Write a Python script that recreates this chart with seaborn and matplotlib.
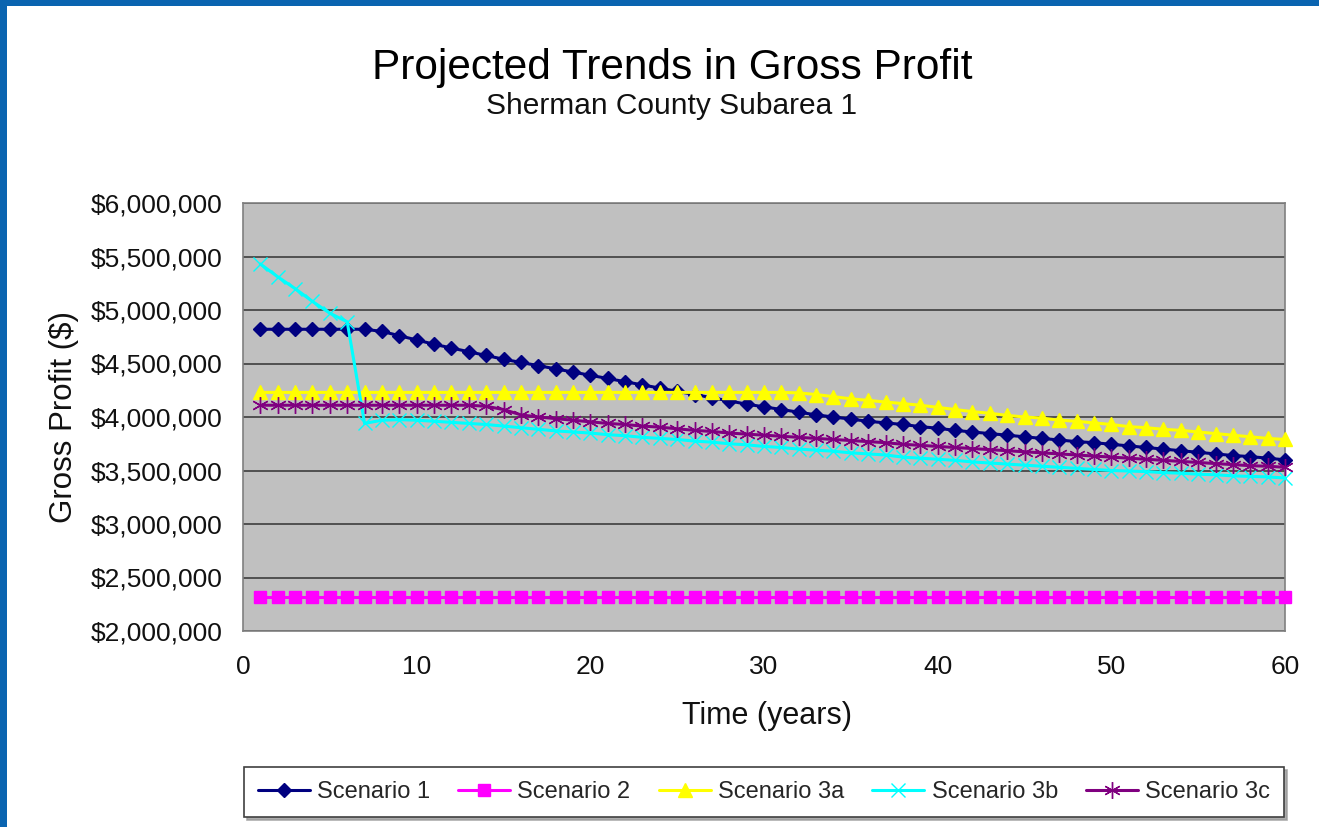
import matplotlib
matplotlib.use("Agg")
import matplotlib.pyplot as plt
from matplotlib.patches import Rectangle
from matplotlib.ticker import FuncFormatter
import seaborn as sns
import pandas as pd

# ---------------- data (values in $ millions) ----------------
years = list(range(1, 61))
series_names = ["Scenario 1", "Scenario 2", "Scenario 3a", "Scenario 3b", "Scenario 3c"]

scenario_1 = [4.82, 4.82, 4.82, 4.82, 4.82, 4.82, 4.82, 4.80, 4.76, 4.72,
              4.68, 4.645, 4.61, 4.575, 4.54, 4.51, 4.48, 4.45, 4.42, 4.39,
              4.36, 4.33, 4.30, 4.27, 4.24, 4.21, 4.18, 4.15, 4.12, 4.095,
              4.07, 4.045, 4.02, 4.00, 3.98, 3.96, 3.945, 3.93, 3.91, 3.895,
              3.875, 3.86, 3.845, 3.83, 3.815, 3.80, 3.785, 3.77, 3.76, 3.745,
              3.73, 3.715, 3.70, 3.685, 3.67, 3.655, 3.64, 3.63, 3.615, 3.60]

scenario_2 = [2.32, 2.32, 2.32, 2.32, 2.32, 2.32, 2.32, 2.32, 2.32, 2.32,
              2.32, 2.32, 2.32, 2.32, 2.32, 2.32, 2.32, 2.32, 2.32, 2.32,
              2.32, 2.32, 2.32, 2.32, 2.32, 2.32, 2.32, 2.32, 2.32, 2.32,
              2.32, 2.32, 2.32, 2.32, 2.32, 2.32, 2.32, 2.32, 2.32, 2.32,
              2.32, 2.32, 2.32, 2.32, 2.32, 2.32, 2.32, 2.32, 2.32, 2.32,
              2.32, 2.32, 2.32, 2.32, 2.32, 2.32, 2.32, 2.32, 2.32, 2.32]

scenario_3a = [4.23, 4.23, 4.23, 4.23, 4.23, 4.23, 4.23, 4.23, 4.23, 4.23,
               4.23, 4.23, 4.23, 4.23, 4.23, 4.23, 4.23, 4.23, 4.23, 4.23,
               4.23, 4.23, 4.23, 4.23, 4.23, 4.23, 4.23, 4.23, 4.23, 4.23,
               4.23, 4.225, 4.21, 4.19, 4.17, 4.155, 4.14, 4.125, 4.11, 4.09,
               4.07, 4.05, 4.035, 4.015, 4.00, 3.99, 3.97, 3.96, 3.945, 3.93,
               3.91, 3.90, 3.885, 3.875, 3.86, 3.845, 3.83, 3.815, 3.80, 3.79]

scenario_3b = [5.43, 5.31, 5.20, 5.08, 4.97, 4.89, 3.94, 3.97, 3.975, 3.97,
               3.96, 3.95, 3.94, 3.93, 3.915, 3.90, 3.885, 3.87, 3.86, 3.85,
               3.835, 3.825, 3.81, 3.80, 3.79, 3.775, 3.765, 3.75, 3.74, 3.725,
               3.715, 3.70, 3.69, 3.68, 3.665, 3.655, 3.645, 3.625, 3.615, 3.605,
               3.595, 3.58, 3.57, 3.56, 3.55, 3.54, 3.53, 3.52, 3.51, 3.50,
               3.495, 3.49, 3.48, 3.475, 3.465, 3.46, 3.45, 3.445, 3.44, 3.43]

scenario_3c = [4.11, 4.11, 4.11, 4.11, 4.11, 4.11, 4.11, 4.11, 4.11, 4.11,
               4.11, 4.11, 4.11, 4.10, 4.07, 4.02, 4.00, 3.985, 3.97, 3.955,
               3.94, 3.93, 3.915, 3.905, 3.89, 3.875, 3.865, 3.85, 3.84, 3.83,
               3.82, 3.81, 3.80, 3.79, 3.78, 3.77, 3.76, 3.745, 3.735, 3.725,
               3.715, 3.705, 3.695, 3.685, 3.675, 3.665, 3.655, 3.645, 3.635, 3.625,
               3.615, 3.605, 3.595, 3.585, 3.575, 3.565, 3.555, 3.545, 3.54, 3.53]

y_ticks = [2.0, 2.5, 3.0, 3.5, 4.0, 4.5, 5.0, 5.5, 6.0]
x_ticks = [0, 10, 20, 30, 40, 50, 60]

all_values = [scenario_1, scenario_2, scenario_3a, scenario_3b, scenario_3c]
df = pd.concat(
    [pd.DataFrame({"Year": years, "Profit": [v * 1e6 for v in vals], "Series": name})
     for name, vals in zip(series_names, all_values)],
    ignore_index=True,
)

# ---------------- style ----------------
sns.set_theme(style="white")
plt.rcParams["font.family"] = ["Liberation Sans", "DejaVu Sans"]

colors = {"Scenario 1": "#000080", "Scenario 2": "#FF00FF", "Scenario 3a": "#FFFF00",
          "Scenario 3b": "#00FFFF", "Scenario 3c": "#800080"}
markers = {"Scenario 1": "D", "Scenario 2": "s", "Scenario 3a": "^",
           "Scenario 3b": "x", "Scenario 3c": (6, 2, 0)}
msizes = {"Scenario 1": 7.5, "Scenario 2": 8, "Scenario 3a": 10,
          "Scenario 3b": 10, "Scenario 3c": 12}
mews = {"Scenario 1": 1, "Scenario 2": 1, "Scenario 3a": 1,
        "Scenario 3b": 1.0, "Scenario 3c": 1.0}

fig = plt.figure(figsize=(13.19, 8.27), dpi=100)
fig.patch.set_facecolor("#0a64b0")
fig.patches.append(Rectangle((7 / 1319, 0), 1, 1 - 6 / 827, transform=fig.transFigure,
                             facecolor="white", edgecolor="none", zorder=-10))

ax = fig.add_axes([243 / 1319, 1 - 631 / 827, (1285 - 243) / 1319, (631 - 203) / 827])
ax.set_facecolor("#C0C0C0")

for name in series_names:
    sub = df[df["Series"] == name]
    sns.lineplot(data=sub, x="Year", y="Profit", ax=ax, color=colors[name],
                 marker=markers[name], markersize=msizes[name],
                 markeredgecolor=colors[name], markerfacecolor=colors[name],
                 markeredgewidth=mews[name], linewidth=2.2, label=name,
                 clip_on=False, zorder=3)

ax.set_xlim(0, 60)
ax.set_ylim(2e6, 6e6)
ax.set_xticks(x_ticks)
ax.set_yticks([v * 1e6 for v in y_ticks])
ax.yaxis.set_major_formatter(FuncFormatter(lambda v, p: f"${v:,.0f}"))
ax.grid(axis="y", color="#505050", linewidth=1.4, zorder=1)
ax.set_axisbelow(True)
for s in ax.spines.values():
    s.set_color("#808080")
    s.set_linewidth(1.2)
ax.tick_params(axis="both", direction="out", length=5, width=1, color="#808080",
               labelsize=19, labelcolor="#111111")
ax.tick_params(axis="y", pad=10)
ax.tick_params(axis="x", pad=12)

ax.set_xlabel("Time (years)", fontsize=22, color="#111111")
ax.xaxis.set_label_coords(0.503, -0.199)
ax.xaxis.label.set_verticalalignment("center")
ax.set_ylabel("Gross Profit ($)", fontsize=22.5, color="#111111")
ax.yaxis.set_label_coords(-0.172, 0.5)
ax.yaxis.label.set_verticalalignment("center")

fig.text(672 / 1319, 1 - 79 / 827, "Projected Trends in Gross Profit", fontsize=30.5,
         ha="center", va="baseline", color="black")
fig.text(672 / 1319, 1 - 114 / 827, "Sherman County Subarea 1", fontsize=21.5,
         ha="center", va="baseline", color="#111111")

handles, labels = ax.get_legend_handles_labels()
ax.get_legend().remove()
leg = fig.legend(handles, labels, loc="center", bbox_to_anchor=(764 / 1319, 1 - 792 / 827),
                 ncol=5, fontsize=17, frameon=True, fancybox=False,
                 handlelength=2.2, handletextpad=0.3, columnspacing=1.2,
                 borderpad=0.6, edgecolor="#404040",
                 shadow={"ox": 2, "oy": -2, "color": "#999999", "alpha": 0.8})
leg.get_frame().set_linewidth(1.2)
leg.get_frame().set_facecolor("white")

fig.savefig("out.png", dpi=100, facecolor=fig.get_facecolor())
